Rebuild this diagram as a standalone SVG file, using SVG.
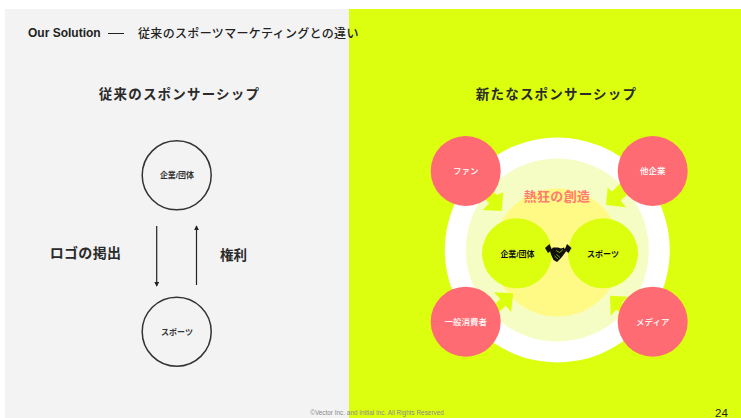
<svg xmlns="http://www.w3.org/2000/svg" width="741" height="418" viewBox="0 0 741 418">
<style>
text{font-family:"Liberation Sans","Noto Sans CJK JP",sans-serif;text-anchor:middle}
.h{font-size:13.5px;font-weight:700;fill:#2a2a2a;letter-spacing:1.2px}
.s{font-size:8px;fill:#333;font-weight:700}
.w{font-size:8.5px;fill:#fff;font-weight:500}
.r{fill:#ff6b72}.g{fill:#dcff0f}
.c{fill:none;stroke:#333;stroke-width:1.5}
.l{stroke:#222;stroke-width:1.2;fill:none}
</style>
<defs><marker id="a" viewBox="0 0 6 6" refX="5" refY="3" markerWidth="4" markerHeight="4" orient="auto"><path d="M0 0L6 3L0 6z" fill="#222"/></marker></defs>
<rect width="741" height="418" fill="#fff"/>
<rect id="left-panel" x="5" y="9" width="344" height="409" fill="#f3f3f3"/>
<rect id="right-panel" x="349" y="9" width="392" height="409" fill="#dcff0f"/>
<text x="28" y="37" font-size="12" font-weight="700" fill="#222" style="text-anchor:start">Our Solution</text>
<path d="M108 33.500H124" stroke="#222" stroke-width="1" fill="none"/>
<text x="138" y="38" font-size="12" font-weight="500" fill="#222" letter-spacing="0.34" style="text-anchor:start">従来のスポーツマーケティングとの違い</text>
<text class="h" x="179.500" y="99">従来のスポンサーシップ</text>
<text class="h" x="556.500" y="99">新たなスポンサーシップ</text>
<circle cx="557.3" cy="250" r="112.5" fill="#fff"/>
<circle cx="557.3" cy="250" r="91.5" fill="#f6fdc4"/>
<circle cx="557.3" cy="252.5" r="64" fill="#fff985"/>
<text x="557" y="201" font-size="13" font-weight="700" fill="#ff7a70" letter-spacing="0.3">熱狂の創造</text>
<g id="connectors">
<path class="l" marker-end="url(#a)" d="M156.7 226V286"/>
<path class="l" marker-end="url(#a)" d="M196.5 285V226"/>
<polygon class="g" points="501.7,211 482.7,210 489.3,203.3 474,188 481,180 496.700,195 503.3,192.300"/>
<polygon class="g" points="606,205 607.7,187.3 611.7,191.700 627,177 636,186 620.700,200.700 626,207.300"/>
<polygon class="g" points="513.3,293.3 494,292.3 500,299 485,314 491,320 505.700,305.700 511,312.300"/>
<polygon class="g" points="610,295.700 628,296.700 622,303 637,318 631.500,324 616.500,309.500 610.700,315.700"/>
</g>
<g id="node-company-left"><circle class="c" cx="176.7" cy="175.3" r="34.5"/><text class="s" x="177" y="178">企業/団体</text></g>
<g id="node-sports-left"><circle class="c" cx="176.7" cy="331.7" r="34.5"/><text class="s" x="177" y="334.5">スポーツ</text></g>
<text x="85.5" y="258" font-size="14" font-weight="700" fill="#2a2a2a" letter-spacing="0.3">ロゴの掲出</text>
<text x="233.5" y="260" font-size="13.5" font-weight="700" fill="#2a2a2a">権利</text>
<g id="node-fan"><circle class="r" cx="465.7" cy="171" r="35"/><text class="w" x="465.7" y="174">ファン</text></g>
<g id="node-other"><circle class="r" cx="652.7" cy="171" r="35"/><text class="w" x="652.7" y="174">他企業</text></g>
<g id="node-consumer"><circle class="r" cx="465.7" cy="321.7" r="35"/><text class="w" x="465.7" y="324.5">一般消費者</text></g>
<g id="node-media"><circle class="r" cx="652.7" cy="321.7" r="35"/><text class="w" x="652.7" y="324.5">メディア</text></g>
<g id="node-company"><circle class="g" cx="517" cy="253.3" r="35"/><text class="s" x="517.5" y="256.5" style="fill:#111">企業/団体</text></g>
<g id="node-sports"><circle class="g" cx="603" cy="253.3" r="35"/><text class="s" x="603" y="256.5" style="fill:#111">スポーツ</text></g>
<g id="handshake">
<path fill="#111" d="M545 248L549.500 244L552 250L548 253z"/>
<path fill="#111" d="M571.500 248L567 244L564.500 250L568.500 253z"/>
<path fill="#111" d="M550 251L553 247.500H558L561 248.500L564 247.500L566 251.500L561.500 257.500L557 262L553.500 260L551 254.500z"/>
<path fill="none" stroke="#dcff0f" stroke-width="0.6" d="M556 250.500L559.500 252.500L563 249.500M554.500 256L558 259M556.500 254.500L560 257.500"/>
</g>
<text x="377" y="415" font-size="6.4" fill="#8a8a8a">©Vector Inc. and Initial Inc. All Rights Reserved</text>
<text x="721.500" y="417" font-size="11.500" fill="#222">24</text>
</svg>
